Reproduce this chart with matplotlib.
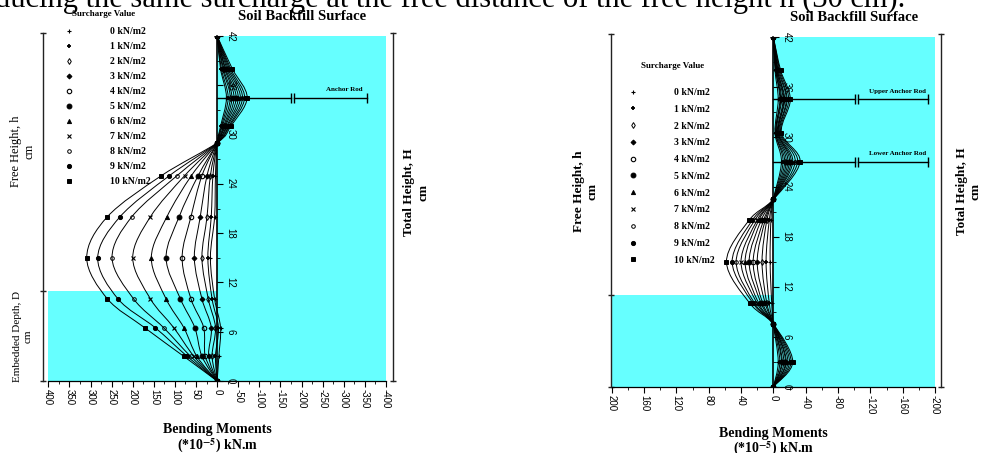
import numpy as np
import matplotlib
matplotlib.use("Agg")
import matplotlib.pyplot as plt
from matplotlib.path import Path
from matplotlib.patches import PathPatch
from matplotlib.lines import Line2D
from matplotlib.ticker import MultipleLocator

plt.rcParams['font.family'] = ['Liberation Serif', 'DejaVu Serif']
plt.rcParams['mathtext.fontset'] = 'stix'

# ---- data ----
surcharges = [0, 1, 2, 3, 4, 5, 6, 7, 8, 9, 10]
surcharge_labels = [f'{s} kN/m2' for s in surcharges]

# single anchor wall (left): rows = heights, columns = surcharge 0..10
heights_single = [42, 38, 34.5, 31, 29, 25, 20, 15, 10, 6.5, 3, 0]
moments_single = [
    [0, 0, 0, 0, 0, 0, 0, 0, 0, 0, 0],
    [-8, -10, -13, -15, -18, -20, -23, -26, -29, -32, -36],
    [-22, -26, -31, -35, -40, -45, -50, -55, -60, -65, -71],
    [-8, -10, -12, -15, -17, -19, -22, -24, -27, -29, -32],
    [0, 0, 0, 0, 0, 0, 0, 0, 0, 0, 0],
    [4, 10, 16, 24, 36, 45, 61, 77, 95, 113, 132],
    [6, 14, 24, 40, 62, 90, 119, 158, 202, 230, 260],
    [16, 22, 36, 54, 83, 121, 156, 200, 249, 283, 309],
    [6, 12, 21, 36, 62, 87, 121, 158, 198, 235, 260],
    [-8, -3, 4, 14, 32, 53, 79, 103, 127, 147, 172],
    [-4, 4, 12, 20, 28, 36, 48, 55, 63, 71, 79],
    [0, 0, 0, 0, 0, 0, 0, 0, 0, 0, 0],
]
anchors_single = [34.5]
anchor_names_single = ['Anchor Rod']

# double anchor wall (right)
heights_double = [42, 38, 34.5, 30.5, 27, 22.5, 20, 15, 10, 7.5, 3, 0]
moments_double = [
    [0, 0, 0, 0, 0, 0, 0, 0, 0, 0, 0],
    [-2, -3, -3, -4, -4, -5, -5, -6, -7, -8, -9],
    [-6, -8, -9, -10, -12, -13, -14, -16, -17, -19, -21],
    [-2, -3, -3, -4, -5, -6, -6, -7, -8, -9, -10],
    [-10, -12, -14, -16, -18, -20, -22, -24, -27, -30, -33],
    [0, 0, 0, 0, 0, 0, 0, 0, 0, 0, 0],
    [3, 5, 8, 10, 12, 15, 18, 20, 23, 26, 30],
    [4, 9, 14, 20, 25, 30, 35, 40, 46, 51, 58],
    [2, 5, 8, 10, 13, 15, 18, 20, 23, 25, 29],
    [0, 0, 0, 0, 0, 0, 0, 0, 0, 0, 0],
    [-6, -8, -10, -11, -13, -15, -16, -18, -20, -22, -24],
    [0, 0, 0, 0, 0, 0, 0, 0, 0, 0, 0],
]
anchors_double = [34.5, 27]
anchor_names_double = ['Upper Anchor Rod', 'Lower Anchor Rod']

total_height = 42
embedded_depth = 11

# ---- styles ----
CYAN = '#66ffff'
marker_styles = [
    dict(marker='+', ms=3.5, mew=0.8, mfc='k'),
    dict(marker='+', ms=3.5, mew=1.3, mfc='k'),
    dict(marker='d', ms=3, mew=0.7, mfc='none'),
    dict(marker='D', ms=2.5, mew=0.7, mfc='k'),
    dict(marker='o', ms=3.2, mew=0.8, mfc='none'),
    dict(marker='o', ms=3.5, mew=0.7, mfc='k'),
    dict(marker='^', ms=3, mew=0.7, mfc='k'),
    dict(marker='x', ms=3, mew=0.8, mfc='k'),
    dict(marker='o', ms=2.6, mew=0.7, mfc='none'),
    dict(marker='o', ms=3, mew=0.7, mfc='k'),
    dict(marker='s', ms=2.6, mew=0.7, mfc='k'),
]


def smooth_path(x, y):
    # catmull-rom through the points, like a smoothed spreadsheet line
    pts = np.column_stack([x, y]).astype(float)
    n = len(pts)
    verts = [pts[0]]
    codes = [Path.MOVETO]
    for i in range(n - 1):
        p0 = pts[max(i - 1, 0)]
        p1 = pts[i]
        p2 = pts[i + 1]
        p3 = pts[min(i + 2, n - 1)]
        verts += [p1 + (p2 - p0) / 6, p2 - (p3 - p1) / 6, p2]
        codes += [Path.CURVE4] * 3
    return Path(verts, codes)


def draw_panel(ax, heights, moments, xlim, major, minor, anchors, anchor_names,
               rod, label_x, title_off):
    m = np.array(moments, dtype=float)

    # soil areas
    ax.fill_between([0, -xlim], 0, total_height, color=CYAN, lw=0, zorder=0)
    ax.fill_between([xlim, 0], 0, embedded_depth, color=CYAN, lw=0, zorder=0)

    for j in range(len(surcharges)):
        ax.add_patch(PathPatch(smooth_path(m[:, j], heights), fc='none',
                               ec='k', lw=0.7, zorder=3))
        ax.plot(m[:, j], heights, ls='none', color='k', zorder=4,
                **marker_styles[j])

    # anchor rods
    b1, b2, end = rod
    for h, name in zip(anchors, anchor_names):
        ax.plot([0, b1], [h, h], color='k', lw=1, zorder=2)
        ax.plot([b2, end], [h, h], color='k', lw=1, zorder=2)
        ax.plot([b1, b2, end], [h, h, h], ls='none', marker='|', ms=7,
                mew=1, color='k', zorder=2)
        ax.text(label_x, h + 0.7, name, fontsize=5, fontweight='bold',
                ha='center', va='bottom')

    # axes styling: y axis sits on the zero line
    for s in ['top', 'left']:
        ax.spines[s].set_visible(False)
    ax.spines['right'].set_position(('data', 0))
    ax.spines['right'].set_linewidth(1.2)
    ax.spines['right'].set_zorder(5)
    ax.spines['bottom'].set_linewidth(0.9)
    ax.yaxis.set_ticks_position('right')
    ax.yaxis.set_major_locator(MultipleLocator(6))
    ax.yaxis.set_minor_locator(MultipleLocator(3))
    xt = np.arange(-xlim, xlim + 1, major)
    ax.set_xticks(xt)
    ax.set_xticklabels([f'{v:g}' for v in xt], rotation=-90,
                       family='Liberation Sans', fontsize=7, va='top')
    ax.xaxis.set_minor_locator(MultipleLocator(minor))
    ax.tick_params(axis='both', which='major', length=4, width=0.8,
                   labelsize=7, direction='out')
    ax.tick_params(axis='both', which='minor', length=2, width=0.6,
                   direction='out')
    ax.tick_params(axis='x', pad=2)
    ax.tick_params(axis='y', pad=2)
    for t in ax.get_yticklabels():
        t.set_rotation(-90)
        t.set_family('Liberation Sans')
        t.set_va('center')
    ax.set_xlim(xlim, -xlim)
    ax.set_ylim(0, total_height)

    ax.text(-xlim / 2, total_height + title_off, 'Soil Backfill Surface',
            fontsize=10.5, fontweight='bold', ha='center', va='center')


def side_line(ax, xfrac, ticks):
    tr = ax.get_yaxis_transform()
    ax.plot([xfrac, xfrac], [0, total_height + 0.4], color='#222222', lw=1,
            transform=tr, clip_on=False)
    ax.plot([xfrac] * len(ticks), ticks, ls='none', marker='_', ms=4,
            mew=1, color='#222222', transform=tr, clip_on=False)


def surcharge_legend(ax, marker_x, top_y, spacing, title_x, title_y):
    handles = [Line2D([], [], ls='none', color='k', **st)
               for st in marker_styles]
    lg = ax.legend(handles, surcharge_labels, loc='upper left',
                   bbox_to_anchor=(marker_x / 985, 1 - top_y / 453),
                   bbox_transform=fig.transFigure, frameon=False,
                   handlelength=0.6, handletextpad=3.9, borderpad=0,
                   borderaxespad=0, labelspacing=spacing,
                   prop={'weight': 'bold', 'size': 7})
    lg.set_zorder(6)
    fig.text(title_x / 985, 1 - title_y / 453, 'Surcharge Value',
             fontsize=6.5, fontweight='bold', ha='center', va='center')


fig = plt.figure(figsize=(9.85, 4.53), dpi=100)

fig.text(905 / 985, 1 - 7 / 453,
         'ducing the same surcharge at the free distance of the free height h (30 cm).',
         fontsize=22, ha='right', va='baseline')

ax1 = fig.add_axes([48.3 / 985, 72 / 453, 337.7 / 985, 345 / 453])
draw_panel(ax1, heights_single, moments_single, 400, 50, 25,
           anchors_single, anchor_names_single, (-174, -182, -354), -300, 2.4)
side_line(ax1, -0.017, [0, embedded_depth, total_height + 0.4])
side_line(ax1, 1.02, [0, total_height + 0.4])
ax1.text(-0.075, 28, 'Free Height, h\ncm', rotation=90, fontsize=9,
         ha='center', va='center', transform=ax1.get_yaxis_transform())
ax1.text(-0.075, 5.4, 'Embedded Depth, D\ncm', rotation=90, fontsize=8,
         ha='center', va='center', transform=ax1.get_yaxis_transform())
ax1.text(1.09, 23, 'Total Height, H\ncm', rotation=90, fontsize=9.5,
         fontweight='bold', ha='center', va='center',
         transform=ax1.get_yaxis_transform())
ax1.text(0.5, -0.123, 'Bending Moments\n(*10$^{\\mathbf{-5}}$) kN.m',
         fontsize=10, fontweight='bold', ha='center', va='top',
         linespacing=1.0, transform=ax1.transAxes)

ax2 = fig.add_axes([611.7 / 985, 66.3 / 453, 323.3 / 985, 349.7 / 453])
draw_panel(ax2, heights_double, moments_double, 200, 40, 20,
           anchors_double, anchor_names_double, (-101, -105, -191), -154, 2.3)
side_line(ax2, -0.003, [0, embedded_depth, total_height + 0.4])
side_line(ax2, 1.018, [0, total_height + 0.4])
ax2.text(-0.08, 23.5, 'Free Height, h\ncm', rotation=90, fontsize=9.5,
         fontweight='bold', ha='center', va='center',
         transform=ax2.get_yaxis_transform())
ax2.text(1.105, 23.5, 'Total Height, H\ncm', rotation=90, fontsize=9.5,
         fontweight='bold', ha='center', va='center',
         transform=ax2.get_yaxis_transform())
ax2.text(0.5, -0.115, 'Bending Moments\n(*10$^{\\mathbf{-5}}$) kN.m',
         fontsize=10, fontweight='bold', ha='center', va='top',
         linespacing=1.0, transform=ax2.transAxes)

surcharge_legend(ax1, 66, 27, 0.62, 104, 14)
surcharge_legend(ax2, 630, 88, 0.8, 673, 66)

fig.savefig('out.png', dpi=100)
